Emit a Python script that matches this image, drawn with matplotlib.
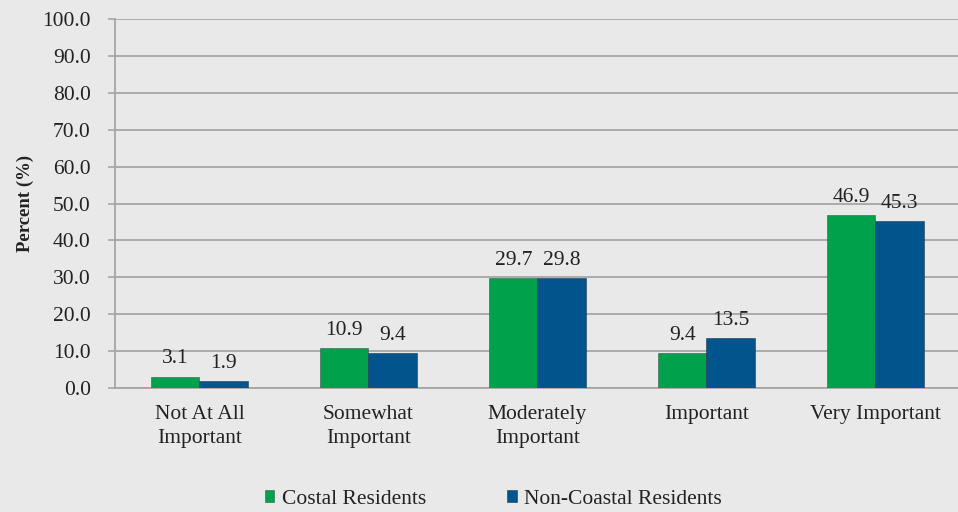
import matplotlib
matplotlib.use("Agg")
import matplotlib.pyplot as plt
import numpy as np

categories = ["Not At All\nImportant", "Somewhat\nImportant", "Moderately\nImportant", "Important", "Very Important"]
coastal = [3.1, 10.9, 29.7, 9.4, 46.9]
noncoastal = [1.9, 9.4, 29.8, 13.5, 45.3]
series_names = ["Costal Residents", "Non-Coastal Residents"]
yticks = [0, 10, 20, 30, 40, 50, 60, 70, 80, 90, 100]

plt.rcParams['font.family'] = ['Liberation Serif', 'DejaVu Serif']
bg = "#e9e9e9"
green = "#00a14b"
blue = "#01558c"
gridc = "#a6a6a6"
txt = "#222222"
fs = 15.5

fig = plt.figure(figsize=(9.58, 5.12), dpi=100, facecolor=bg)
ax = fig.add_axes([0.12, 0.242, 0.882, 0.721], facecolor=bg)

x = np.arange(len(categories))
w = 0.285
b1 = ax.bar(x - w/2, coastal, w, color=green, edgecolor="#3a5a4a", linewidth=0.4, zorder=3, label=series_names[0])
b2 = ax.bar(x + w/2, noncoastal, w, color=blue, edgecolor="#203a50", linewidth=0.4, zorder=3, label=series_names[1])

for bars, vals in ((b1, coastal), (b2, noncoastal)):
    for r, v in zip(bars, vals):
        ax.annotate(f"{v:.1f}", (r.get_x() + r.get_width()/2, v), xytext=(0, 6),
                    textcoords="offset points", ha="center", va="bottom", fontsize=fs, color=txt)

ax.set_xlim(-0.5, 4.5)
ax.set_ylim(0, 100)
ax.set_yticks(yticks)
ax.set_yticklabels([f"{t:.1f}" for t in yticks], fontsize=fs, color=txt)
ax.set_xticks(x)
ax.set_xticklabels(categories, fontsize=fs, color=txt, linespacing=1.35)
ax.tick_params(axis='x', length=0, pad=12)
ax.tick_params(axis='y', length=5, width=1.2, color=gridc, pad=12.5)
ax.yaxis.grid(True, color=gridc, linewidth=1.3, zorder=0)
ax.set_axisbelow(True)
for s in ["top", "right"]:
    ax.spines[s].set_visible(False)
ax.spines["left"].set_color(gridc)
ax.spines["left"].set_linewidth(1.3)
ax.spines["bottom"].set_color(gridc)
ax.spines["bottom"].set_linewidth(1.3)

ax.set_ylabel("Percent (%)", fontsize=13.5, fontweight="bold", color=txt, labelpad=6)

leg = fig.legend(handles=[b1, b2], labels=series_names, loc="center", bbox_to_anchor=(0.515, 0.025),
                 ncol=2, frameon=False, fontsize=fs, handlelength=0.45, handleheight=0.45,
                 handletextpad=0.35, columnspacing=3.75)
for t in leg.get_texts():
    t.set_color(txt)

fig.savefig("out.png", dpi=100, facecolor=bg)
